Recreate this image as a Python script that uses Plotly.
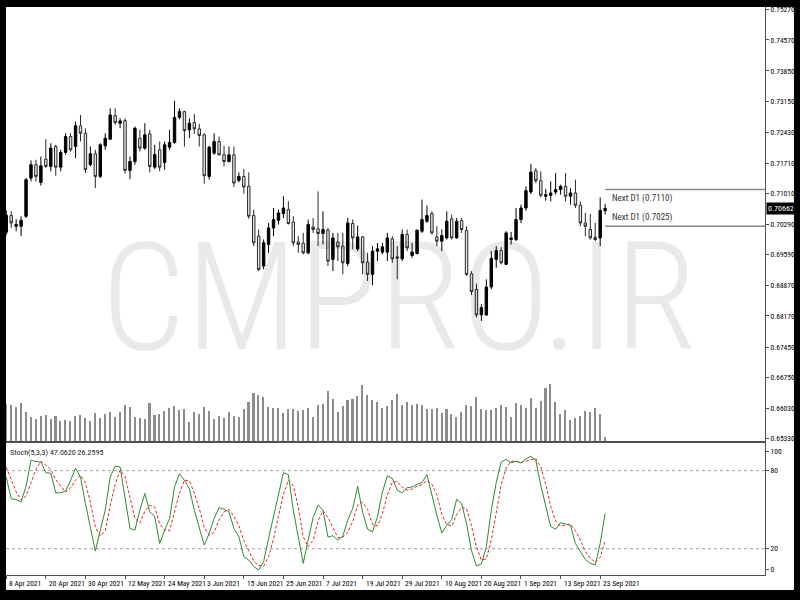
import plotly.graph_objects as go
import pandas as pd

# ---------------- data ----------------
dates = [d.strftime("%Y-%m-%d") for d in pd.bdate_range("2021-04-08", "2021-09-24")]

opens = [0.70112, 0.70498, 0.70250, 0.70250, 0.70482, 0.71366, 0.71676, 0.71267, 0.71805, 0.71637,
         0.72099, 0.71620, 0.71960, 0.72330, 0.72099, 0.72577, 0.72406, 0.71676, 0.71930, 0.71405,
         0.72115, 0.72267, 0.72815, 0.72637, 0.72699, 0.71544, 0.71752, 0.72290, 0.72060, 0.72392,
         0.71620, 0.72022, 0.71729, 0.72082, 0.72191, 0.72775, 0.72907, 0.72484, 0.72653, 0.72507,
         0.72369, 0.71405, 0.71944, 0.72214, 0.71907, 0.71752, 0.71907, 0.71313, 0.71405, 0.71175,
         0.70498, 0.70020, 0.69327, 0.69828, 0.70211, 0.70389, 0.70544, 0.70636, 0.70343, 0.69888,
         0.69858, 0.69634, 0.70234, 0.70188, 0.70082, 0.70158, 0.69481, 0.69881, 0.69789, 0.69389,
         0.70313, 0.69726, 0.70003, 0.69419, 0.69135, 0.69673, 0.69650, 0.69650, 0.69957, 0.69541,
         0.69495, 0.70059, 0.69574, 0.69620, 0.70135, 0.70366, 0.70544, 0.70003, 0.69904, 0.69980,
         0.70419, 0.69980, 0.70382, 0.70151, 0.69149, 0.68788, 0.68195, 0.68195, 0.68841, 0.69481,
         0.69689, 0.69366, 0.69943, 0.69943, 0.70405, 0.70673, 0.71043, 0.71537, 0.71306, 0.70944,
         0.70967, 0.71043, 0.71098, 0.71175, 0.70944, 0.71020, 0.70736, 0.70327, 0.70174, 0.69996,
         0.69980, 0.70613]
highs = [0.70620, 0.70597, 0.70412, 0.70482, 0.71366, 0.71775, 0.71791, 0.71868, 0.72267, 0.72175,
         0.72138, 0.72022, 0.72406, 0.72406, 0.72676, 0.72831, 0.72521, 0.72099, 0.72022, 0.72175,
         0.72406, 0.72983, 0.72983, 0.72752, 0.72752, 0.71868, 0.72560, 0.72484, 0.72637, 0.72484,
         0.72138, 0.72214, 0.72214, 0.72484, 0.73161, 0.72983, 0.72930, 0.72752, 0.72854, 0.72623,
         0.72406, 0.72115, 0.72406, 0.72330, 0.72115, 0.72099, 0.72099, 0.71498, 0.71574, 0.71498,
         0.70636, 0.70174, 0.69943, 0.70327, 0.70673, 0.70636, 0.70944, 0.70828, 0.70482, 0.70020,
         0.70096, 0.70405, 0.70442, 0.71059, 0.70597, 0.70211, 0.70096, 0.70096, 0.70096, 0.70442,
         0.70405, 0.70267, 0.70020, 0.69634, 0.69789, 0.69865, 0.69865, 0.70096, 0.70020, 0.69789,
         0.70174, 0.70174, 0.69865, 0.70174, 0.70867, 0.70729, 0.70597, 0.70250, 0.70174, 0.70597,
         0.70521, 0.70442, 0.70442, 0.70250, 0.69211, 0.68918, 0.68442, 0.69019, 0.69673, 0.69789,
         0.69765, 0.70135, 0.70119, 0.70673, 0.70752, 0.71175, 0.71690, 0.71597, 0.71521, 0.71121,
         0.71290, 0.71482, 0.71214, 0.71482, 0.71135, 0.71329, 0.70828, 0.70558, 0.70535, 0.70327,
         0.70920, 0.70766]
lows = [0.70043, 0.70211, 0.70135, 0.70020, 0.70442, 0.71290, 0.71290, 0.71191, 0.71597, 0.71521,
        0.71422, 0.71521, 0.71907, 0.71983, 0.71828, 0.72214, 0.71482, 0.71637, 0.71135, 0.71366,
        0.72022, 0.72253, 0.72600, 0.72521, 0.71468, 0.71343, 0.71676, 0.71983, 0.72022, 0.71498,
        0.71574, 0.71521, 0.71560, 0.72022, 0.72161, 0.72729, 0.72099, 0.72290, 0.72392, 0.72099,
        0.71237, 0.71329, 0.71907, 0.71884, 0.71637, 0.71729, 0.71158, 0.71267, 0.71006, 0.70419,
        0.69789, 0.69211, 0.69250, 0.69634, 0.70020, 0.70290, 0.70442, 0.70290, 0.69789, 0.69634,
        0.69597, 0.69597, 0.70096, 0.69789, 0.69828, 0.69327, 0.69211, 0.69442, 0.69135, 0.69327,
        0.69712, 0.69673, 0.69135, 0.68980, 0.68881, 0.69442, 0.69597, 0.69442, 0.69403, 0.69019,
        0.69442, 0.69673, 0.69518, 0.69597, 0.70096, 0.70327, 0.70059, 0.69789, 0.69673, 0.69943,
        0.69943, 0.69966, 0.70096, 0.69095, 0.68657, 0.68132, 0.68056, 0.68171, 0.68788, 0.69288,
        0.69366, 0.69350, 0.69828, 0.69904, 0.70327, 0.70613, 0.70997, 0.71251, 0.70920, 0.70844,
        0.70828, 0.70983, 0.70983, 0.70828, 0.70752, 0.70673, 0.70250, 0.70020, 0.69943, 0.69904,
        0.69789, 0.70521]
closes = [0.70505, 0.70327, 0.70290, 0.70389, 0.71329, 0.71676, 0.71405, 0.71653, 0.71637, 0.72060,
          0.71620, 0.71960, 0.72330, 0.72022, 0.72577, 0.72406, 0.71560, 0.71930, 0.71405, 0.72138,
          0.72290, 0.72831, 0.72653, 0.72692, 0.71544, 0.71752, 0.72521, 0.72060, 0.72369, 0.71637,
          0.71914, 0.71620, 0.72138, 0.72191, 0.72775, 0.72907, 0.72468, 0.72637, 0.72507, 0.72353,
          0.71422, 0.72082, 0.72214, 0.71907, 0.71752, 0.71907, 0.71251, 0.71405, 0.71158, 0.70482,
          0.69865, 0.69250, 0.69865, 0.70211, 0.70405, 0.70558, 0.70673, 0.70313, 0.69865, 0.69828,
          0.69634, 0.70290, 0.70174, 0.70082, 0.70174, 0.69442, 0.69980, 0.69772, 0.69403, 0.70327,
          0.69980, 0.70003, 0.69403, 0.69135, 0.69673, 0.69726, 0.69772, 0.69980, 0.69495, 0.69511,
          0.70059, 0.69749, 0.69650, 0.70158, 0.70405, 0.70498, 0.70096, 0.69904, 0.70036, 0.70366,
          0.69980, 0.70366, 0.70174, 0.69135, 0.68733, 0.68195, 0.68363, 0.68841, 0.69504, 0.69689,
          0.69403, 0.70096, 0.69980, 0.70405, 0.70673, 0.71075, 0.71505, 0.71306, 0.70967, 0.70983,
          0.71020, 0.71098, 0.71175, 0.70944, 0.71020, 0.70736, 0.70327, 0.70250, 0.69980, 0.69943,
          0.70613, 0.70662]

tick_volume = [11300, 11100, 10300, 11500, 8900, 7500, 6700, 7800, 8100, 6700,
               7800, 6100, 6600, 6100, 7800, 8100, 7100, 6100, 8600, 7100,
               8300, 9000, 7500, 8900, 10900, 10300, 7500, 7200, 6900, 11700,
               7900, 8300, 9100, 10000, 10600, 9500, 9900, 5800, 8900, 8300,
               10300, 9300, 6900, 7800, 7000, 8900, 7800, 7500, 9900, 11900,
               14700, 14000, 13300, 10300, 10000, 10000, 8500, 9700, 9700, 9100,
               9400, 10000, 7500, 10900, 11400, 15100, 12700, 9000, 10600, 12500,
               12700, 13700, 17100, 14000, 12500, 12000, 10000, 10600, 12500, 14400,
               11100, 12000, 10900, 11400, 10900, 9700, 9700, 10000, 8600, 9700,
               8200, 7500, 8900, 11100, 10600, 13500, 9700, 9400, 9400, 10000,
               10900, 10300, 7500, 11700, 10900, 10000, 13100, 10000, 12300, 16100,
               17300, 12000, 8300, 9400, 6400, 7200, 7800, 9200, 8900, 10000,
               8400, 1300]

stoch_k = [75, 58.5, 57.7, 56, 68, 88, 87, 86.6, 78.4, 78,
           63, 63, 64.4, 72.5, 82, 75, 54.7, 37, 18.2, 34.3,
           49.6, 75, 83.5, 82.8, 59.8, 35.6, 34.3, 49.6, 62.4, 48.3,
           45, 24, 34.3, 43.2, 67.5, 77.6, 72.6, 66.2, 49.6, 36.9,
           22.8, 31.7, 43.2, 51.6, 50.4, 48.3, 35.6, 29.2, 14, 11.3,
           6.2, 3.7, 10, 27.9, 44.5, 62.9, 78.4, 76.9, 49.6, 29.2,
           8.8, 26.6, 44, 53.6, 49.6, 29, 30, 26.6, 29.7, 42,
           51, 68, 48, 35, 33, 44.5, 63.6, 76, 74, 65,
           63, 67, 67.4, 69.5, 70.8, 77, 61, 45.8, 32, 38,
           42.5, 58, 54.7, 39.4, 18.5, 6.7, 8.3, 21.5, 49.6, 71,
           86.6, 88.7, 86, 87.3, 85.8, 89, 91, 88, 68.7, 52,
           37, 35, 40, 39, 38, 24, 17.7, 11.8, 8.8, 7.5,
           24, 47.062]
stoch_d = [82.7, 72.8, 63.7, 57.4, 60.6, 70.7, 81, 87.2, 84, 81,
           73.1, 68, 63.5, 66.6, 73, 76.5, 70.6, 55.6, 36.6, 29.8,
           34, 53, 69.4, 80.4, 75.4, 59.4, 43.2, 39.8, 48.8, 53.4,
           51.9, 39.1, 34.4, 33.8, 48.3, 62.8, 72.6, 72.1, 62.8, 50.9,
           36.4, 30.5, 32.6, 42.2, 48.4, 50.1, 44.8, 37.7, 26.3, 18.2,
           10.5, 7.1, 6.6, 13.9, 27.5, 45.1, 61.9, 72.7, 68.3, 51.9,
           29.2, 21.5, 26.5, 41.4, 49.1, 44.1, 36.2, 28.5, 28.8, 32.8,
           40.9, 53.7, 55.7, 50.3, 38.7, 37.5, 47, 61.4, 71.2, 71.7,
           67.3, 65, 65.8, 68, 69.2, 72.4, 69.6, 61.3, 46.3, 38.6,
           37.5, 46.2, 51.7, 50.7, 37.5, 21.5, 11.2, 12.2, 26.5, 47.4,
           69.1, 82.1, 87.1, 87.3, 86.4, 87.4, 88.6, 89.3, 82.6, 69.6,
           52.6, 41.3, 37.3, 38, 39, 33.7, 26.6, 17.8, 12.8, 9.4,
           13.4, 26.2595]

price_ticks = [0.75270, 0.74570, 0.73850, 0.73150, 0.72430, 0.71710, 0.71010,
               0.70290, 0.69590, 0.68870, 0.68170, 0.67450, 0.66750, 0.66030, 0.65330]
date_tick_labels = ["8 Apr 2021", "20 Apr 2021", "30 Apr 2021", "12 May 2021", "24 May 2021",
                    "3 Jun 2021", "15 Jun 2021", "25 Jun 2021", "7 Jul 2021", "19 Jul 2021",
                    "29 Jul 2021", "10 Aug 2021", "20 Aug 2021", "1 Sep 2021", "13 Sep 2021",
                    "23 Sep 2021"]
stoch_levels = [20, 80]
stoch_tick_labels = ["0", "20", "80", "100"]
next_d1 = [0.7110, 0.7025]
last_price = 0.70662
watermark = "CMPRO.IR"

# ---------------- figure ----------------
SMALL = "Roboto Condensed, Liberation Sans Narrow, Roboto, sans-serif"
WM = "Roboto Condensed, Liberation Sans Narrow, Roboto, sans-serif"

X_RANGE = [-0.05, 153.3]
AXC = "#505050"


def px_to_paper_y(py):
    return (575 - py) / 570


fig = go.Figure()

fig.add_trace(go.Bar(x=dates, y=tick_volume, xaxis="x", yaxis="y3", width=0.32,
                     marker=dict(color="#8c8c8c", line=dict(width=0)), hoverinfo="skip",
                     showlegend=False))

fig.add_trace(go.Candlestick(
    x=dates, open=opens, high=highs, low=lows, close=closes, xaxis="x", yaxis="y",
    increasing=dict(line=dict(color="#000000", width=1), fillcolor="#000000"),
    decreasing=dict(line=dict(color="#2a2a2a", width=1), fillcolor="#ece3e3"),
    whiskerwidth=0, showlegend=False))

fig.add_trace(go.Scatter(x=dates, y=stoch_d, xaxis="x2", yaxis="y2", mode="lines",
                         line=dict(color="#ee2222", width=1, dash="3px,2px"), showlegend=False))
fig.add_trace(go.Scatter(x=dates, y=stoch_k, xaxis="x2", yaxis="y2", mode="lines",
                         line=dict(color="#2e8b2e", width=1), showlegend=False))

shapes = [
    dict(type="rect", xref="paper", yref="paper", x0=0, x1=(795 - 6) / 760,
         y0=px_to_paper_y(590), y1=px_to_paper_y(4), fillcolor="white",
         line=dict(width=0), layer="below"),
    dict(type="rect", xref="paper", yref="paper", x0=-0.02, x1=1.06,
         y0=1.0, y1=1.02, fillcolor="black", line=dict(width=0), layer="above"),
]
for lv in stoch_levels:
    shapes.append(dict(type="line", xref="paper", yref="y2", x0=0, x1=1, y0=lv, y1=lv,
                       line=dict(color="#a0a0a0", width=1, dash="dot"), layer="below"))
for v in next_d1:
    shapes.append(dict(type="line", xref="x", yref="y", x0=len(dates) - 1, x1=X_RANGE[1],
                       y0=v, y1=v, line=dict(color="#8a8a8a", width=1.5)))

wm_font = dict(family=WM, size=150, color="rgba(0,0,0,0.085)")
try:
    go.layout.annotation.Font(weight=300)
    wm_font.update(weight=300)
except Exception:
    pass

annotations = [
    dict(text=watermark, xref="paper", yref="paper", x=(400 - 6) / 760, y=px_to_paper_y(297),
         showarrow=False, xanchor="center", yanchor="middle", font=wm_font),
    dict(text=f"Next D1 ({next_d1[0]:.4f})", xref="x", yref="y", x=len(dates) - 0.1, y=next_d1[0],
         showarrow=False, xanchor="left", yanchor="top", yshift=-1,
         font=dict(family=SMALL, size=9, color="#333333")),
    dict(text=f"Next D1 ({next_d1[1]:.4f})", xref="x", yref="y", x=len(dates) - 0.1, y=next_d1[1],
         showarrow=False, xanchor="left", yanchor="bottom", yshift=1,
         font=dict(family=SMALL, size=9, color="#333333")),
    dict(text=f"{last_price:.5f}", xref="paper", yref="y", x=1, y=last_price, xshift=1,
         showarrow=False, xanchor="left", yanchor="middle", bgcolor="#000000", borderpad=1,
         font=dict(family=SMALL, size=8, color="#ffffff")),
    dict(text=f"Stoch(5,3,3) {stoch_k[-1]:.4f} {stoch_d[-1]:.4f}", xref="paper", yref="y2",
         x=0.003, y=94, showarrow=False, xanchor="left", yanchor="middle",
         font=dict(family=SMALL, size=8, color="#222222")),
]
for lbl, d in zip(date_tick_labels, dates[::8]):
    annotations.append(dict(text=lbl, xref="x2", yref="paper", x=d, y=px_to_paper_y(577),
                            showarrow=False, xanchor="left", yanchor="top", xshift=1,
                            font=dict(family=SMALL, size=7.5, color="#000000")))

fig.update_layout(
    width=800, height=600,
    margin=dict(l=6, r=34, t=5, b=25),
    paper_bgcolor="#000000", plot_bgcolor="#ffffff",
    showlegend=False, bargap=0,
    shapes=shapes, annotations=annotations,
    xaxis=dict(domain=[0, 1], anchor="y", type="category", range=X_RANGE,
               showticklabels=False, ticks="", showgrid=False, zeroline=False,
               showline=True, linecolor=AXC, linewidth=1, mirror=False,
               rangeslider=dict(visible=False)),
    yaxis=dict(domain=[px_to_paper_y(441), 1], anchor="x", side="right",
               range=[0.652609, 0.753325], tickvals=price_ticks, tickformat=".5f",
               ticks="outside", ticklen=3, tickcolor=AXC, showgrid=False, zeroline=False,
               showline=True, linecolor=AXC, linewidth=1,
               tickfont=dict(family=SMALL, size=7.5, color="#000000")),
    yaxis3=dict(overlaying="y", anchor="x", range=[0, 130800], visible=False),
    xaxis2=dict(domain=[0, 1], anchor="y2", type="category", range=X_RANGE,
                tickvals=dates[::8], showticklabels=False,
                ticks="outside", ticklen=3, tickcolor=AXC,
                showgrid=False, zeroline=False, showline=True, mirror=True,
                linecolor=AXC, linewidth=1),
    yaxis2=dict(domain=[0, px_to_paper_y(443)], anchor="x2", side="right",
                range=[-0.2, 100.9], tickvals=[4.4, 20, 80, 94.7], ticktext=stoch_tick_labels,
                ticks="outside", ticklen=3, tickcolor=AXC, showgrid=False, zeroline=False,
                showline=True, linecolor=AXC, linewidth=1,
                tickfont=dict(family=SMALL, size=7.5, color="#000000")),
)

fig.write_html("out.html", config={"displayModeBar": False},
               post_script="document.body.style.margin='0px';"
                           "document.body.style.background='#000000';"
                           "document.body.style.overflow='hidden';")
